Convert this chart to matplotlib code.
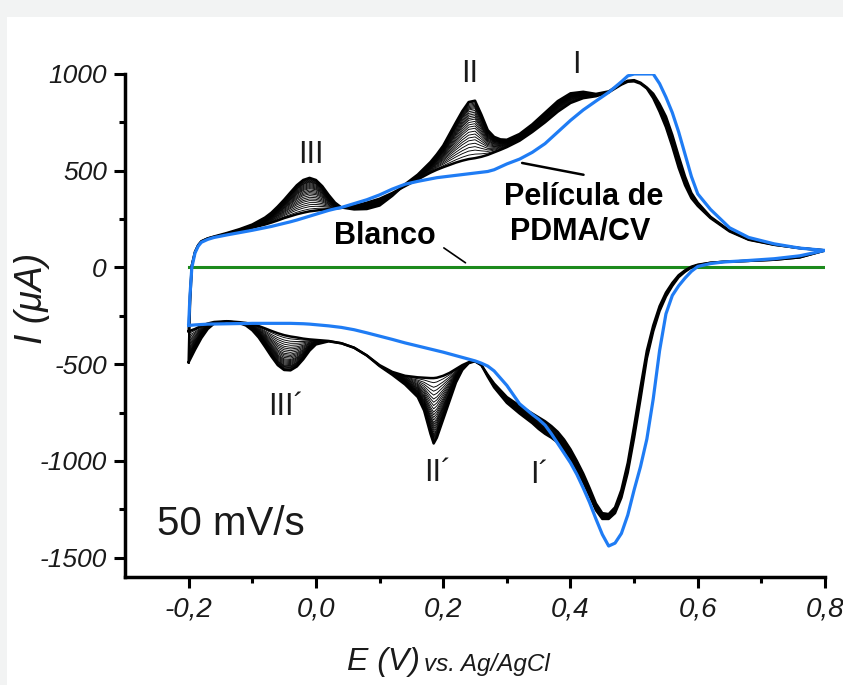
import numpy as np
import matplotlib
matplotlib.use('Agg')
import matplotlib.pyplot as plt
from matplotlib.patches import Rectangle

plt.rcParams['font.family'] = ['Liberation Sans', 'DejaVu Sans']

# potentials of the anodic (forward) sweep, V vs Ag/AgCl
E_fwd = [-0.2, -0.198, -0.195, -0.19, -0.185, -0.18, -0.17, -0.16, -0.14, -0.12,
         -0.10, -0.08, -0.07, -0.06, -0.05, -0.04, -0.03, -0.02, -0.01, 0.0,
         0.01, 0.02, 0.03, 0.04, 0.06, 0.08, 0.10, 0.12, 0.14, 0.16,
         0.18, 0.19, 0.20, 0.21, 0.22, 0.23, 0.24, 0.25, 0.26, 0.27,
         0.28, 0.29, 0.30, 0.32, 0.34, 0.36, 0.38, 0.40, 0.42, 0.44,
         0.46, 0.48, 0.49, 0.50, 0.51, 0.52, 0.53, 0.54, 0.55, 0.56,
         0.57, 0.58, 0.59, 0.60, 0.62, 0.65, 0.68, 0.72, 0.76, 0.80]

# potentials of the cathodic (reverse) sweep
E_rev = [0.80, 0.76, 0.72, 0.68, 0.64, 0.62, 0.60, 0.59, 0.58, 0.57,
         0.56, 0.55, 0.54, 0.53, 0.52, 0.51, 0.50, 0.49, 0.48, 0.47,
         0.46, 0.45, 0.44, 0.43, 0.42, 0.41, 0.40, 0.39, 0.38, 0.37,
         0.36, 0.35, 0.34, 0.32, 0.30, 0.28, 0.27, 0.26, 0.25, 0.24,
         0.23, 0.22, 0.21, 0.20, 0.19, 0.185, 0.18, 0.17, 0.16, 0.14,
         0.12, 0.10, 0.08, 0.06, 0.04, 0.02, 0.0, -0.01, -0.02, -0.03,
         -0.04, -0.05, -0.06, -0.07, -0.08, -0.09, -0.10, -0.11, -0.12, -0.14,
         -0.16, -0.17, -0.18, -0.19, -0.2]

# film growth, first cycle (uA)
I_first_fwd = [-330, -150, 10, 80, 115, 135, 150, 158, 172, 188,
               205, 222, 232, 243, 255, 265, 275, 283, 290, 294,
               298, 302, 305, 308, 318, 335, 355, 385, 420, 455,
               490, 505, 518, 530, 542, 552, 560, 565, 572, 582,
               595, 608, 622, 655, 700, 750, 805, 850, 875, 885,
               905, 945, 960, 962, 950, 925, 875, 805, 725, 625,
               515, 425, 358, 318, 255, 186, 143, 117, 100, 88]
I_first_rev = [88, 52, 40, 34, 29, 24, 14, 4, -15, -40,
               -80, -130, -200, -300, -430, -620, -820, -1010, -1150, -1240,
               -1275, -1270, -1220, -1140, -1065, -1000, -940, -890, -850, -820,
               -795, -775, -755, -715, -670, -600, -555, -505, -485, -490,
               -505, -525, -545, -560, -570, -572, -572, -570, -568, -560,
               -540, -505, -455, -415, -392, -380, -375, -372, -368, -362,
               -357, -350, -340, -328, -315, -303, -293, -287, -283, -278,
               -282, -290, -302, -318, -330]

# film growth, last cycle (uA)
I_last_fwd = [-490, -200, 10, 80, 115, 135, 150, 160, 178, 198,
              222, 258, 283, 315, 350, 388, 425, 452, 463, 452,
              420, 375, 335, 310, 300, 302, 320, 370, 430, 480,
              545, 585, 630, 690, 750, 808, 855, 862, 790, 710,
              675, 662, 660, 690, 740, 800, 860, 900, 908, 897,
              910, 950, 965, 968, 955, 930, 898, 845, 780, 685,
              575, 470, 385, 335, 262, 190, 145, 118, 100, 88]
I_last_rev = [88, 52, 40, 34, 29, 24, 12, 0, -22, -50,
              -95, -150, -225, -330, -470, -680, -880, -1060, -1190, -1270,
              -1300, -1300, -1255, -1180, -1110, -1045, -988, -940, -905, -880,
              -860, -835, -805, -755, -700, -620, -565, -505, -485, -495,
              -530, -595, -690, -785, -880, -910, -860, -740, -670, -605,
              -555, -510, -455, -415, -392, -382, -398, -430, -475, -512,
              -532, -530, -505, -460, -410, -362, -325, -300, -288, -278,
              -290, -318, -365, -425, -490]

# how far each recorded cycle has grown between the first and the last one
cycle_growth = [0.0, 0.07, 0.14, 0.20, 0.26, 0.32, 0.37, 0.42, 0.47, 0.52,
                0.56, 0.60, 0.64, 0.68, 0.71, 0.74, 0.77, 0.80, 0.83, 0.86,
                0.88, 0.90, 0.92, 0.94, 0.96, 0.98, 1.0]

# blue trace (the recorder saturates at 1000 uA)
I_blue_fwd = [-300, -150, 0, 75, 110, 130, 145, 155, 168, 180,
              192, 205, 212, 220, 228, 236, 245, 255, 265, 275,
              285, 295, 303, 310, 330, 350, 375, 405, 430, 445,
              458, 464, 468, 472, 476, 480, 484, 488, 492, 496,
              505, 520, 535, 560, 595, 640, 700, 760, 814, 860,
              905, 960, 990, 1000, 1000, 1000, 1000, 950, 880, 800,
              700, 585, 470, 380, 300, 205, 155, 122, 100, 88]
I_blue_rev = [88, 60, 45, 36, 28, 20, 5, -20, -55, -95,
              -145, -240, -430, -680, -887, -1030, -1150, -1280, -1375, -1425,
              -1440, -1380, -1300, -1215, -1140, -1070, -1010, -960, -910, -860,
              -815, -785, -760, -705, -610, -535, -510, -495, -483, -474,
              -465, -456, -447, -438, -430, -426, -422, -414, -406, -390,
              -372, -355, -338, -322, -310, -302, -296, -293, -291, -290,
              -289, -289, -289, -289, -289, -289, -289, -290, -290, -291,
              -292, -293, -295, -297, -300]

# blank electrode
E_blank = [-0.2, 0.8]
I_blank = [0, 0]

xticks = [-0.2, 0.0, 0.2, 0.4, 0.6, 0.8]
xticklabels = ['-0,2', '0,0', '0,2', '0,4', '0,6', '0,8']
yticks = [-1500, -1000, -500, 0, 500, 1000]
yticklabels = ['-1500', '-1000', '-500', '0', '500', '1000']

fig = plt.figure(figsize=(8.43, 6.85), dpi=100, facecolor='#f2f3f3')
fig.add_artist(Rectangle((7 / 843, 0), 1, 1 - 17 / 685, transform=fig.transFigure,
                         facecolor='white', edgecolor='none', zorder=-10))
ax = fig.add_axes([0.1483, 0.1577, 0.8304, 0.7343])
ax.set_facecolor('none')

E_loop = np.r_[E_fwd, E_rev]
first = np.r_[I_first_fwd, I_first_rev]
last = np.r_[I_last_fwd, I_last_rev]

ax.plot(E_blank, I_blank, color='#1c8a1c', lw=2.2, zorder=2)
for i, g in enumerate(cycle_growth):
    # first and last cycles drawn heavier so the bundle has dark edges
    edge = i in (0, len(cycle_growth) - 1)
    ax.plot(E_loop, first + g * (last - first), color='black',
            lw=1.8 if edge else 0.65, zorder=3, solid_joinstyle='round')
ax.plot(E_loop, np.r_[I_blue_fwd, I_blue_rev], color='#1f7cf4', lw=2.3, zorder=4,
        solid_joinstyle='round')

ax.set_xlim(-0.3, 0.8)
ax.set_ylim(-1600, 1000)
for s in ['top', 'right']:
    ax.spines[s].set_visible(False)
for s in ['left', 'bottom']:
    ax.spines[s].set_linewidth(2.5)

ax.set_xticks(xticks)
ax.set_xticklabels(xticklabels, fontsize=20, fontstyle='italic', color='#1a1a1a')
ax.set_xticks([-0.1, 0.1, 0.3, 0.5, 0.7], minor=True)
ax.set_yticks(yticks)
ax.set_yticklabels(yticklabels, fontsize=19, fontstyle='italic', color='#1a1a1a')
ax.set_yticks([-1250, -750, -250, 250, 750], minor=True)
ax.tick_params(which='major', direction='out', length=8, width=2.2)
ax.tick_params(which='minor', direction='out', length=4, width=2.2)
ax.tick_params(axis='x', which='major', pad=6)
ax.tick_params(axis='y', which='major', pad=5)

# peak labels
peak_kw = dict(fontsize=22, color='#1a1a1a', ha='center', va='center', clip_on=False)
ax.text(-0.0085, 582, 'III', **peak_kw)
ax.text(0.2412, 1000, 'II', **peak_kw)
ax.text(0.4086, 1046, 'I', **peak_kw)
ax.text(-0.0477, -720, 'III´', **peak_kw)
ax.text(0.191, -1060, 'II´', **peak_kw)
ax.text(0.351, -1072, 'I´', **peak_kw)

bold_kw = dict(fontsize=22, fontweight='bold', color='black', ha='center', va='center')
ax.text(0.42, 366, 'Película de', **bold_kw)
ax.text(0.415, 186, 'PDMA/CV', **bold_kw)
ax.text(0.108, 165, 'Blanco', **bold_kw)
ax.annotate('', xy=(0.324, 540), xytext=(0.4205, 479),
            arrowprops=dict(arrowstyle='-', color='black', lw=1.8, shrinkA=0, shrinkB=0))
ax.annotate('', xy=(0.235, 24), xytext=(0.201, 101),
            arrowprops=dict(arrowstyle='-', color='black', lw=1.2, shrinkA=0, shrinkB=0))

ax.text(-0.134, -1325, '50 mV/s', fontsize=29, color='#1a1a1a', ha='center', va='center')

# axis titles
fig.text(32 / 843, 1 - 298 / 685, 'I (μA)', rotation=90, ha='center', va='center',
         fontsize=27, fontstyle='italic', color='#1a1a1a')
t1 = fig.text(347 / 843, 1 - 670 / 685, 'E (V)', fontsize=23, fontstyle='italic',
              color='#1a1a1a', va='baseline')
ax.annotate('vs. Ag/AgCl', xy=(1, 0), xycoords=t1, xytext=(3, 1), textcoords='offset points',
            fontsize=17.5, fontstyle='italic', color='#1a1a1a', va='bottom', annotation_clip=False)

fig.savefig('out.png', dpi=100, facecolor=fig.get_facecolor())
